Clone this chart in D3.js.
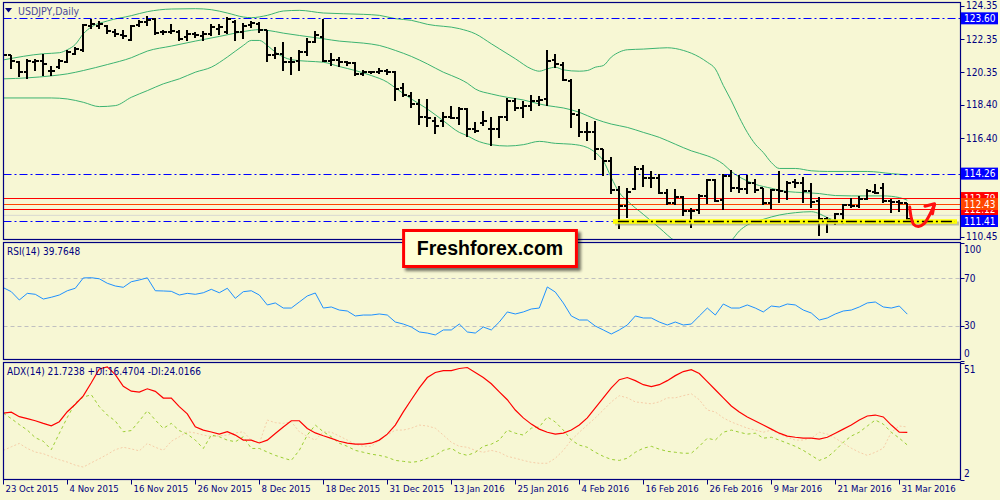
<!DOCTYPE html>
<html><head><meta charset="utf-8">
<script src="https://cdn.jsdelivr.net/npm/d3@7"></script>
<style>html,body{margin:0;padding:0;background:#F7F7D4;} svg{display:block}</style>
</head><body><svg id="c" width="1000" height="500"></svg>
<script>
// ---------------- DATA ----------------
const symbolTitle = "USDJPY,Daily";
const dateTickIdx = [0,8,16,24,32,40,48,56,64,72,80,88,96,104,112];
const dateTickLabels = ["23 Oct 2015","4 Nov 2015","16 Nov 2015","26 Nov 2015","8 Dec 2015","18 Dec 2015","31 Dec 2015","13 Jan 2016","25 Jan 2016","4 Feb 2016","16 Feb 2016","26 Feb 2016","9 Mar 2016","21 Mar 2016","31 Mar 2016"];

const open = [121.06,121.37,121.00,120.36,121.00,121.06,120.46,120.70,120.96,121.47,
121.67,123.12,123.12,123.12,122.77,122.57,122.27,123.18,123.38,123.58,
122.77,122.77,122.77,122.47,122.67,122.51,122.67,122.98,122.77,123.38,
122.77,123.18,123.28,122.88,121.37,121.47,120.96,121.02,121.57,122.17,
122.47,121.06,121.11,120.96,120.90,120.26,120.36,120.36,120.42,120.36,
119.42,118.95,118.45,117.64,117.44,117.40,117.64,117.60,118.15,116.94,
117.28,116.94,116.94,117.64,118.65,118.21,118.35,118.65,118.75,121.11,
120.82,119.86,117.81,116.74,116.74,115.73,115.03,113.28,112.31,113.32,
114.53,114.02,113.98,113.12,112.52,112.86,112.01,112.05,112.92,113.88,
112.66,114.12,113.38,113.32,113.72,113.38,112.52,113.26,113.18,113.78,
113.72,113.22,112.62,111.51,111.41,111.81,112.37,112.31,112.72,113.18,
113.42,112.62,112.58,112.47];
const high = [121.47,121.41,121.06,121.17,121.17,121.47,120.76,121.17,121.71,121.87,
123.28,123.58,123.44,123.18,122.98,122.88,123.18,123.48,123.72,123.64,
122.92,123.24,122.92,122.88,122.77,122.84,123.24,123.24,123.68,123.52,
123.32,123.44,123.38,122.92,121.87,122.17,121.27,121.71,122.43,122.84,
123.58,121.51,121.27,121.06,120.96,120.50,120.46,120.62,120.56,120.42,
119.70,119.15,118.75,118.75,117.64,117.95,118.35,118.25,118.21,117.34,
118.05,117.64,117.74,118.81,118.81,118.65,118.99,118.95,121.67,121.43,
121.00,119.96,118.15,117.34,117.44,115.77,115.23,113.52,113.42,114.73,
114.79,114.43,114.22,113.32,113.32,112.92,112.21,113.02,113.92,113.92,
114.22,114.47,114.18,114.18,113.92,113.42,113.32,114.39,113.82,113.92,
114.06,113.72,112.86,111.65,111.91,112.45,112.82,112.92,113.32,113.66,
113.72,112.72,112.66,112.52];
const low = [120.10,120.56,120.10,119.96,120.46,120.16,120.16,120.56,120.90,121.37,
121.57,122.98,122.98,122.67,122.47,122.37,122.21,123.08,123.12,122.57,
122.61,122.67,122.23,122.21,122.43,122.23,122.51,122.57,122.67,122.23,
122.37,123.04,122.71,120.96,121.17,120.46,120.22,120.46,121.31,122.11,
120.96,120.76,120.70,120.76,120.16,120.16,120.26,120.26,120.22,118.61,
118.85,118.21,117.20,117.08,116.64,117.04,117.54,117.20,116.44,116.68,
117.14,115.90,116.40,117.44,118.05,117.60,118.05,118.35,118.35,120.62,
119.82,116.98,116.44,116.24,115.07,114.12,113.02,110.91,111.57,113.26,
113.46,113.42,113.06,112.37,112.37,111.71,110.97,111.81,112.45,112.58,
112.05,113.18,113.12,113.02,113.12,112.37,112.11,112.52,112.66,113.42,
112.52,112.21,110.50,110.70,111.17,111.25,112.21,112.17,112.66,113.02,
112.52,111.91,111.97,111.45];
const close = [121.37,121.06,120.36,121.06,121.06,120.86,120.42,121.02,121.57,121.77,
123.18,123.28,123.28,122.84,122.63,122.51,123.12,123.38,123.48,122.71,
122.77,122.84,122.37,122.67,122.57,122.67,123.08,123.08,123.58,122.77,
123.12,123.32,122.88,121.37,121.47,120.96,120.96,121.57,122.17,122.57,
121.06,121.11,120.96,120.90,120.26,120.36,120.36,120.42,120.36,119.35,
119.01,118.45,117.64,117.60,117.14,117.64,117.60,118.15,116.94,116.80,
117.44,116.94,117.64,118.65,118.21,118.35,118.61,118.69,121.06,120.86,
119.90,117.85,116.74,116.74,115.77,115.03,113.28,112.31,113.18,114.53,
114.02,113.98,113.12,112.52,112.86,112.01,112.01,112.92,113.88,112.62,
114.12,113.38,113.32,113.72,113.26,112.52,113.26,113.22,113.72,113.72,
113.22,112.58,111.51,111.45,111.85,112.37,112.31,112.72,113.22,113.12,
112.62,112.58,112.52,111.51];

// Bollinger bands (at bar indices)
const bbUpperIdx = [0,5,7,8,9,10,11,13,16,18,21,24,26,28,30,31,33,35,37,40,45,47,49,51,53,57,59,61,62,64,66,67,68,69,70,72,73,74,75,76,77,78,80,82,83,85,87,88,89,90,91,92,93,94,95,96,97,99,101,103,108,111,113];
const bbUpperVal = [121.10,121.47,121.53,121.71,122.03,122.67,123.08,123.44,123.76,124.00,124.16,124.18,124.12,123.92,123.68,123.64,123.78,124.04,124.08,123.92,123.84,123.78,123.58,123.48,123.24,122.98,122.67,122.07,121.77,121.17,120.56,120.42,120.56,120.66,120.50,120.42,120.46,120.66,120.76,121.27,121.57,121.71,121.75,121.81,121.83,121.67,121.27,120.96,120.56,119.56,118.65,117.64,116.74,116.03,115.53,114.93,114.57,114.57,114.43,114.39,114.39,114.26,114.18];
const bbMidIdx = [0,3,6,8,10,13,16,18,21,24,27,29,31,32,33,35,37,40,42,45,47,49,51,53,55,57,58,59,61,63,65,67,68,70,72,74,76,78,80,82,84,86,88,89,90,91,92,93,94,96,98,100,102,104,106,108,110,112,113];
const bbMidVal = [119.96,120.02,120.14,120.26,120.46,120.82,121.23,121.63,121.93,122.23,122.51,122.71,122.88,122.92,122.88,122.71,122.57,122.37,122.23,122.11,121.97,121.67,121.31,120.86,120.36,119.96,119.70,119.35,119.05,118.85,118.69,118.45,118.35,118.21,117.95,117.54,117.24,117.04,116.74,116.44,116.03,115.63,115.33,115.13,114.83,114.39,114.06,113.82,113.62,113.38,113.18,113.12,113.06,112.94,112.92,112.92,112.92,112.82,112.66];
const bbLowIdx = [0,6,8,10,12,14,16,18,20,22,24,26,28,30,31,32,33,34,36,38,40,42,44,46,48,49,51,53,55,57,58,59,61,63,65,67,69,71,73,74,75,76,77,78,80,82,84,86,88,90,91,92,93,95,97,99,101,102,103,105,107,110,113];
const bbLowVal = [118.81,118.81,118.75,118.55,118.29,118.35,118.85,119.25,119.66,119.96,120.36,120.66,121.27,121.97,122.27,122.27,121.97,121.57,121.11,121.02,120.96,120.70,120.46,120.16,119.76,119.42,118.75,118.15,117.44,116.74,116.54,116.28,116.00,115.92,116.00,116.20,116.08,116.03,115.83,115.53,115.03,114.02,113.12,112.62,111.81,111.00,110.20,109.90,109.80,110.00,110.24,110.81,111.17,111.51,111.77,111.91,111.97,111.85,111.61,111.37,111.41,111.45,111.37];

// Horizontal levels
const blueLevels = [123.60, 114.26, 111.41];
const redLevels = [112.79, 112.12];
const orangeLevel = 112.43;
const askLevel = 111.75;
const supportStartIdx = 76.2;
const priceTicks = [124.35, 122.35, 120.35, 118.40, 116.40, 110.45];

// RSI(14)
const rsiTitle = "RSI(14) 39.7648";
const rsiLevels = [70, 30];
const rsiTickLabels = [100, 70, 30, 0];
const rsi = [62.1,58.7,51.7,57.3,56.5,52.5,54.0,55.9,59.5,61.6,
70.3,70.5,69.6,65.8,63.5,62.4,67.1,68.6,70.4,59.5,
59.3,59.0,55.9,57.3,56.5,57.8,60.7,57.8,61.6,53.1,
58.7,59.5,55.9,47.5,49.2,44.9,44.9,50.0,55.1,57.6,
44.9,45.8,43.2,42.4,38.2,39.0,39.0,39.9,39.0,33.1,
31.4,28.9,24.7,23.8,22.2,26.4,26.4,31.4,24.7,23.8,
28.9,26.4,33.1,41.6,39.9,41.6,44.1,44.9,62.7,58.4,
49.2,38.2,34.8,34.8,29.7,26.4,23.0,26.4,30.6,38.2,
36.5,36.5,33.1,30.6,33.1,30.6,31.4,38.2,44.9,39.0,
48.3,44.9,44.9,47.5,44.9,41.6,46.6,45.8,48.3,47.5,
43.2,40.7,34.8,36.5,39.9,42.4,43.2,45.8,49.2,50.0,
45.8,44.9,46.6,39.76];

// ADX(14)
const adxTitle = "ADX(14) 21.7238 +DI:16.4704 -DI:24.0166";
const adxRange = [2, 51];
const adx = [29.8,30.2,28.3,27.5,26.6,25.5,24.5,26.2,30.4,33.5,
37.0,42.5,48.3,49.2,45.9,41.0,39.0,38.6,40.0,38.9,
36.1,36.1,32.5,29.5,24.1,22.7,21.9,21.0,22.0,20.6,
18.5,18.5,17.3,18.5,21.3,24.0,26.6,26.6,23.4,21.5,
20.3,19.2,18.0,17.2,16.8,16.8,17.2,18.5,21.0,24.8,
30.3,35.4,40.4,44.7,46.8,47.6,47.6,48.5,48.9,46.8,
44.7,42.1,38.7,35.4,31.1,27.8,25.2,23.1,21.8,21.0,
21.4,22.7,24.8,27.8,32.0,36.2,40.4,43.8,44.7,43.4,
41.7,40.9,41.7,43.4,45.5,47.2,48.0,46.4,43.0,39.6,
36.2,32.8,30.3,28.2,26.5,24.8,23.1,21.4,20.2,19.7,
19.3,19.3,18.9,19.7,21.4,23.1,24.8,26.9,28.6,29.0,
28.2,24.8,21.8,21.72];
const plusDI = [29.8,27.5,25.0,22.7,19.5,18.0,14.5,21.3,28.0,34.0,
36.5,37.5,32.5,29.0,26.5,22.0,22.5,26.5,30.8,26.9,
23.4,25.5,22.5,21.0,18.5,15.0,20.6,19.9,18.5,17.8,
19.9,15.0,15.0,13.5,12.1,11.0,10.0,14.2,20.6,24.8,
22.0,19.9,17.2,15.9,14.2,13.4,12.6,12.1,11.3,10.0,
9.6,9.2,9.6,10.9,12.1,14.2,15.1,13.0,12.1,13.4,
15.9,16.8,18.5,22.7,21.4,20.6,23.5,24.0,28.2,26.1,
22.7,18.5,16.4,15.5,13.4,11.7,10.4,10.0,10.9,13.4,
15.1,15.9,14.7,13.8,13.4,13.0,13.0,15.9,19.3,18.5,
21.8,22.7,21.8,21.0,21.4,19.3,19.7,18.5,17.2,15.9,
14.2,12.1,10.0,11.3,14.2,17.6,20.2,21.8,24.4,26.9,
25.2,21.8,19.3,16.47];
const minusDI = [14.2,15.7,17.1,15.0,13.5,12.8,11.5,10.3,9.3,8.0,
7.2,9.0,10.7,12.5,14.5,15.5,14.8,14.0,17.1,15.5,
14.2,18.0,19.9,22.0,21.5,20.6,20.0,20.3,20.6,21.5,
22.0,18.5,17.1,26.9,25.8,25.5,26.2,22.0,20.0,18.5,
22.0,21.8,20.2,18.5,16.8,15.9,15.9,18.5,20.6,22.7,
22.7,23.5,24.8,24.4,23.5,20.6,17.6,15.9,15.5,14.2,
13.4,14.2,13.4,11.7,10.9,10.0,9.2,8.8,8.8,10.9,
14.2,18.5,21.8,24.8,27.8,31.1,34.5,37.1,36.2,34.5,
34.1,33.7,34.5,36.2,36.2,37.1,37.9,35.4,31.1,30.3,
27.8,26.1,24.8,23.5,22.7,21.8,22.7,21.0,19.7,18.5,
18.5,19.3,21.8,21.0,19.3,17.2,15.1,13.4,12.1,13.4,
15.1,21.8,24.4,24.02];

// hand-drawn arrow annotation (bar index, price)
const arrowPath = [[113.3,112.25],[113.5,111.6],[113.8,111.2],[114.4,111.08],[115.1,111.25],[115.7,111.7],[116.4,112.40]];
const arrowHead = [[115.2,112.30],[116.4,112.45],[116.15,111.85]];
const brandText = "Freshforex.com";

// ---------------- LAYOUT ----------------
const svg = d3.select("#c");
const L = 3.5, R = 960.5;
const main = {top: 2.5, bottom: 239.5};
const rsiP = {top: 242.5, bottom: 359.5};
const adxP = {top: 362.5, bottom: 479.5};
const BG = "#F7F7D4", NAVY = "#000080";
const FONT = "'DejaVu Sans Condensed','DejaVu Sans',sans-serif";

svg.append("rect").attr("width",1000).attr("height",500).attr("fill",BG);

const x = d3.scaleLinear().domain([0,113]).range([3.3, 907.3]);
const y = d3.scaleLinear().domain([111.41, 123.60]).range([221, 18.33]);
const yR = d3.scaleLinear().domain([30, 70]).range([325.7, 278.3]);
const yA = d3.scaleLinear().domain(adxRange).range([adxP.bottom, adxP.top]);

const defs = svg.append("defs");
function clip(id, p){ defs.append("clipPath").attr("id",id).append("rect")
  .attr("x",L).attr("y",p.top).attr("width",R-L).attr("height",p.bottom-p.top); }
clip("cm", main); clip("cr", rsiP); clip("ca", adxP);
const sh = defs.append("filter").attr("id","sh").attr("x","-10%").attr("y","-20%").attr("width","130%").attr("height","160%");
sh.append("feGaussianBlur").attr("in","SourceAlpha").attr("stdDeviation",1.5);
sh.append("feOffset").attr("dx",3).attr("dy",3).attr("result","o");
sh.append("feComponentTransfer").append("feFuncA").attr("type","linear").attr("slope",0.55);
const mg = sh.append("feMerge"); mg.append("feMergeNode"); mg.append("feMergeNode").attr("in","SourceGraphic");

// ---------- MAIN PANEL ----------
const gm = svg.append("g").attr("clip-path","url(#cm)");
const lineIdx = (vals, ys) => d3.line().x((d,i)=>x(d[0])).y(d=>ys(d[1])).curve(d3.curveMonotoneX);

// ask line
gm.append("line").attr("x1",L).attr("x2",R).attr("y1",y(askLevel)).attr("y2",y(askLevel))
  .attr("stroke","#d8d8d0").attr("stroke-width",1);
// bands
[[bbUpperIdx,bbUpperVal],[bbMidIdx,bbMidVal],[bbLowIdx,bbLowVal]].forEach(([ix,v])=>{
  gm.append("path").datum(ix.map((d,i)=>[d,v[i]])).attr("fill","none").attr("stroke","#3CB371")
    .attr("stroke-width",1).attr("d", lineIdx(null,y));
});
// levels
blueLevels.forEach((lv,k)=>{
  const xe = (lv===111.41) ? x(supportStartIdx) : R;
  gm.append("line").attr("x1",L).attr("x2",xe).attr("y1",Math.round(y(lv))+0.5).attr("y2",Math.round(y(lv))+0.5)
    .attr("stroke","#0000FF").attr("stroke-width",1).attr("stroke-dasharray","8,3,2,3");
});
redLevels.forEach(lv=>{
  gm.append("line").attr("x1",L).attr("x2",R).attr("y1",Math.round(y(lv))+0.5).attr("y2",Math.round(y(lv))+0.5)
    .attr("stroke","#FF0000").attr("stroke-width",1.2);
});
gm.append("line").attr("x1",L).attr("x2",R).attr("y1",Math.round(y(orangeLevel))+0.5).attr("y2",Math.round(y(orangeLevel))+0.5)
  .attr("stroke","#FF4500").attr("stroke-width",1.2);
// yellow support highlight
const ys = Math.round(y(111.41))+0.5;
svg.append("line").attr("x1",x(supportStartIdx)+2).attr("x2",957+2).attr("y1",ys+2).attr("y2",ys+2)
  .attr("stroke","#9a9a80").attr("stroke-width",4).attr("opacity",0.6);
svg.append("line").attr("x1",x(supportStartIdx)).attr("x2",957).attr("y1",ys).attr("y2",ys)
  .attr("stroke","#FFFF00").attr("stroke-width",4.5);
svg.append("line").attr("x1",x(supportStartIdx)+5).attr("x2",955).attr("y1",ys).attr("y2",ys)
  .attr("stroke","#000").attr("stroke-width",1.3).attr("stroke-dasharray","11,3,2,3");

// OHLC bars
const bars = gm.append("g").attr("stroke","#000").attr("stroke-width",1.6).attr("shape-rendering","crispEdges");
open.forEach((o,i)=>{
  const cx = Math.round(x(i));
  bars.append("line").attr("x1",cx).attr("x2",cx).attr("y1",y(high[i])).attr("y2",y(low[i]));
  bars.append("line").attr("x1",cx-3).attr("x2",cx).attr("y1",Math.round(y(o))).attr("y2",Math.round(y(o)));
  bars.append("line").attr("x1",cx).attr("x2",cx+3.5).attr("y1",Math.round(y(close[i]))).attr("y2",Math.round(y(close[i])));
});

// arrow annotation
const aLine = d3.line().x(d=>x(d[0])).y(d=>y(d[1])).curve(d3.curveCatmullRom);
svg.append("path").datum(arrowPath).attr("d",aLine).attr("fill","none").attr("stroke","#FF1010")
  .attr("stroke-width",3).attr("stroke-linecap","round").attr("stroke-linejoin","round");
svg.append("path").datum(arrowHead).attr("d",d3.line().x(d=>x(d[0])).y(d=>y(d[1]))).attr("fill","none").attr("stroke","#FF1010")
  .attr("stroke-width",3).attr("stroke-linecap","round").attr("stroke-linejoin","round");

// title
svg.append("path").attr("d","M5,8 L12,8 L8.5,12.5 Z").attr("fill",NAVY);
svg.append("text").attr("x",18).attr("y",15).attr("font-family",FONT).attr("font-size",10.5)
  .attr("fill","#4a4a9a").text(symbolTitle);

// ---------- RSI PANEL ----------
const gr = svg.append("g").attr("clip-path","url(#cr)");
rsiLevels.forEach(lv=>{
  gr.append("line").attr("x1",L).attr("x2",R).attr("y1",Math.round(yR(lv))+0.5).attr("y2",Math.round(yR(lv))+0.5)
    .attr("stroke","#C0C0C0").attr("stroke-dasharray","4,3");
});
gr.append("path").datum(rsi).attr("fill","none").attr("stroke","#1E90FF").attr("stroke-width",1)
  .attr("d", d3.line().x((d,i)=>x(i)).y(d=>yR(d)));
svg.append("text").attr("x",7).attr("y",255).attr("font-family",FONT).attr("font-size",10)
  .attr("fill",NAVY).text(rsiTitle);

// ---------- ADX PANEL ----------
const ga = svg.append("g").attr("clip-path","url(#ca)");
ga.append("path").datum(minusDI).attr("fill","none").attr("stroke","#F5CDA8").attr("stroke-width",1).attr("stroke-dasharray","2,2")
  .attr("d", d3.line().x((d,i)=>x(i)).y(d=>yA(d)));
ga.append("path").datum(plusDI).attr("fill","none").attr("stroke","#9ACD32").attr("stroke-width",1).attr("stroke-dasharray","3,3")
  .attr("d", d3.line().x((d,i)=>x(i)).y(d=>yA(d)));
ga.append("path").datum(adx).attr("fill","none").attr("stroke","#FF0000").attr("stroke-width",1.2)
  .attr("d", d3.line().x((d,i)=>x(i)).y(d=>yA(d)));
svg.append("text").attr("x",7).attr("y",375).attr("font-family",FONT).attr("font-size",10)
  .attr("fill",NAVY).text(adxTitle);

// ---------- FRAMES ----------
[main, rsiP, adxP].forEach(p=>{
  svg.append("rect").attr("x",L).attr("y",p.top).attr("width",R-L).attr("height",p.bottom-p.top)
    .attr("fill","none").attr("stroke",NAVY).attr("stroke-width",1.2);
});

// ---------- RIGHT AXES ----------
function rTick(yy){ svg.append("line").attr("x1",R).attr("x2",R+4).attr("y1",Math.round(yy)+0.5).attr("y2",Math.round(yy)+0.5).attr("stroke",NAVY); }
priceTicks.forEach(p=>{
  rTick(y(p));
  svg.append("text").attr("x",966).attr("y",y(p)).attr("dy","0.35em").attr("font-family",FONT).attr("font-size",10)
    .attr("fill",NAVY).text(p.toFixed(2));
});
function box(p, fill, yy){
  rTick(yy);
  svg.append("rect").attr("x",961).attr("y",yy-6).attr("width",37).attr("height",12).attr("fill",fill);
  svg.append("text").attr("x",964).attr("y",yy).attr("dy","0.36em").attr("font-family",FONT).attr("font-size",10)
    .attr("fill","#fff").text(p.toFixed(2));
}
box(123.60,"#0000FF",y(123.60));
box(114.26,"#0000FF",y(114.26));
box(112.79,"#FF0000",y(112.79));
box(112.12,"#FF0000",y(112.12));
box(112.43,"#FF4500",y(112.43));
box(111.41,"#0000FF",y(111.41));

rsiTickLabels.forEach(v=>{
  const yy = yR(v);
  rTick(yy);
  const off = v===100 ? 7 : (v===0 ? -8 : 0);
  svg.append("text").attr("x",964).attr("y",yy+off).attr("dy","0.35em").attr("font-family",FONT).attr("font-size",10)
    .attr("fill",NAVY).text(v);
});
adxRange.forEach(v=>{
  const yy = yA(v);
  rTick(yy);
  const off = v===adxRange[1] ? 7 : -6;
  svg.append("text").attr("x",964).attr("y",yy+off).attr("dy","0.35em").attr("font-family",FONT).attr("font-size",10)
    .attr("fill",NAVY).text(v);
});

// ---------- DATE AXIS ----------
dateTickIdx.forEach((ix,k)=>{
  const xx = Math.round(x(ix))+0.5;
  svg.append("line").attr("x1",xx).attr("x2",xx).attr("y1",adxP.bottom).attr("y2",adxP.bottom+5).attr("stroke",NAVY);
  svg.append("text").attr("x",xx+2).attr("y",492).attr("font-family",FONT).attr("font-size",9.5)
    .attr("fill",NAVY).text(dateTickLabels[k]);
});

// ---------- BRAND BOX ----------
const bx = x(50)+0.3, bw = x(71.6)-x(50);
svg.append("rect").attr("x",bx).attr("y",y(110.84)).attr("width",bw).attr("height",36)
  .attr("fill","#FFFFD6").attr("stroke","#FF0000").attr("stroke-width",3).attr("filter","url(#sh)");
svg.append("text").attr("x",bx+bw/2).attr("y",y(110.84)+25).attr("text-anchor","middle")
  .attr("font-family","'Liberation Sans',Arial,sans-serif").attr("font-weight","bold").attr("font-size",19.5)
  .attr("fill","#000").text(brandText);
</script>
</body></html>
